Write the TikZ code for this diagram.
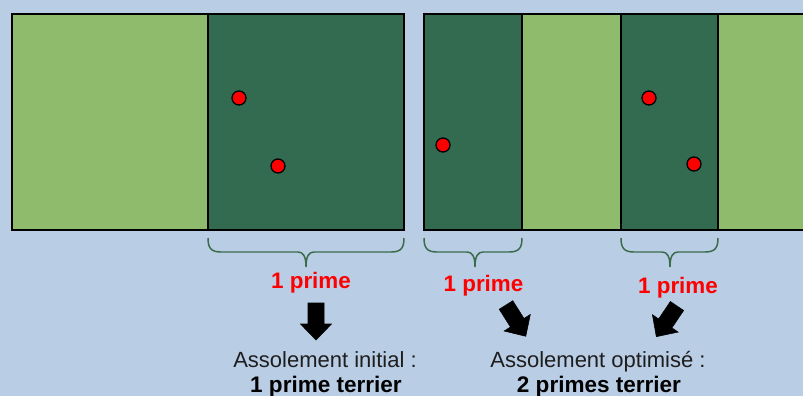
\documentclass[tikz,border=0pt]{standalone}
\usepackage{fontspec}
\setmainfont{Liberation Sans}
\definecolor{bgblue}{HTML}{B9CDE5}
\definecolor{lgreen}{HTML}{8EBC6C}
\definecolor{dgreen}{HTML}{336B51}
\definecolor{bracecol}{HTML}{3A6B4A}
\definecolor{txtgray}{HTML}{1E1E1E}
\tikzset{
  field/.style={draw=black, line width=1.5pt},
  dot/.style={circle, fill=red, draw=black, line width=1pt, minimum size=10.5pt, inner sep=0pt},
  bracestyle/.style={draw=bracecol, line width=1.1pt},
  primelabel/.style={text=red, font=\bfseries\fontsize{16.8}{18}\selectfont, anchor=base, inner sep=0pt},
  normlabel/.style={text=txtgray, font=\fontsize{16.5}{19}\selectfont, anchor=base, inner sep=0pt},
  boldlabel/.style={text=black, font=\bfseries\fontsize{16.9}{19}\selectfont, anchor=base, inner sep=0pt},
  blockarrow/.style={fill=black, draw=black, line width=0.4pt, line join=miter}
}
\newcommand{\bracepath}[3]{% left, middle, right x
  \draw[bracestyle] (#1,238) .. controls (#1,248) and (#1+3,252) .. (#1+13,252)
    -- (#2-8,252) .. controls (#2-3,252) and (#2,256) .. (#2,267)
    .. controls (#2,256) and (#2+3,252) .. (#2+8,252)
    -- (#3-13,252) .. controls (#3-3,252) and (#3,248) .. (#3,238);}
\newcommand{\barrow}[3]{% tail x, tail y, canvas angle
  \fill[blockarrow, shift={(#1,#2)}, rotate=#3]
    (0,-8) -- (21,-8) -- (21,-15.5) -- (37,0) -- (21,15.5) -- (21,8) -- (0,8) -- cycle;}
\begin{document}
\begin{tikzpicture}[x=0.75pt, y=-0.75pt]
\useasboundingbox (0,0) rectangle (803,396);
\fill[bgblue] (0,0) rectangle (803,396);
% left field
\fill[lgreen] (12,14) rectangle (208,230);
\fill[dgreen] (208,14) rectangle (404,230);
\draw[field] (12,14) rectangle (404,230);
\draw[field] (208,14) -- (208,230);
% right field
\fill[dgreen] (424,14) rectangle (522,230);
\fill[lgreen] (522,14) rectangle (621,230);
\fill[dgreen] (621,14) rectangle (718,230);
\fill[lgreen] (718,14) rectangle (803,230);
\draw[field] (804,14) -- (424,14) -- (424,230) -- (804,230);
\draw[field] (522,14) -- (522,230);
\draw[field] (621,14) -- (621,230);
\draw[field] (718,14) -- (718,230);
% dots
\node[dot] (d1) at (239,98) {};
\node[dot] (d2) at (278,166) {};
\node[dot] (d3) at (443,145) {};
\node[dot] (d4) at (649,98) {};
\node[dot] (d5) at (694,164) {};
% braces
\bracepath{208}{306}{404}
\bracepath{424}{475}{522}
\bracepath{621}{670}{718}
% labels
\node[primelabel] (p1) at (311,288) {1 prime};
\node[primelabel] (p2) at (483.5,291) {1 prime};
\node[primelabel] (p3) at (678,293) {1 prime};
% arrows
\barrow{316}{303}{-90}
\barrow{506}{305}{-57.7}
\barrow{677}{306}{-124}
% bottom texts
\node[normlabel] (t1) at (325,367) {Assolement initial :};
\node[boldlabel] (t2) at (326,392) {1 prime terrier};
\node[normlabel] (t3) at (598,367) {Assolement optimisé :};
\node[boldlabel] (t4) at (599,392) {2 primes terrier};
\end{tikzpicture}
\end{document}
